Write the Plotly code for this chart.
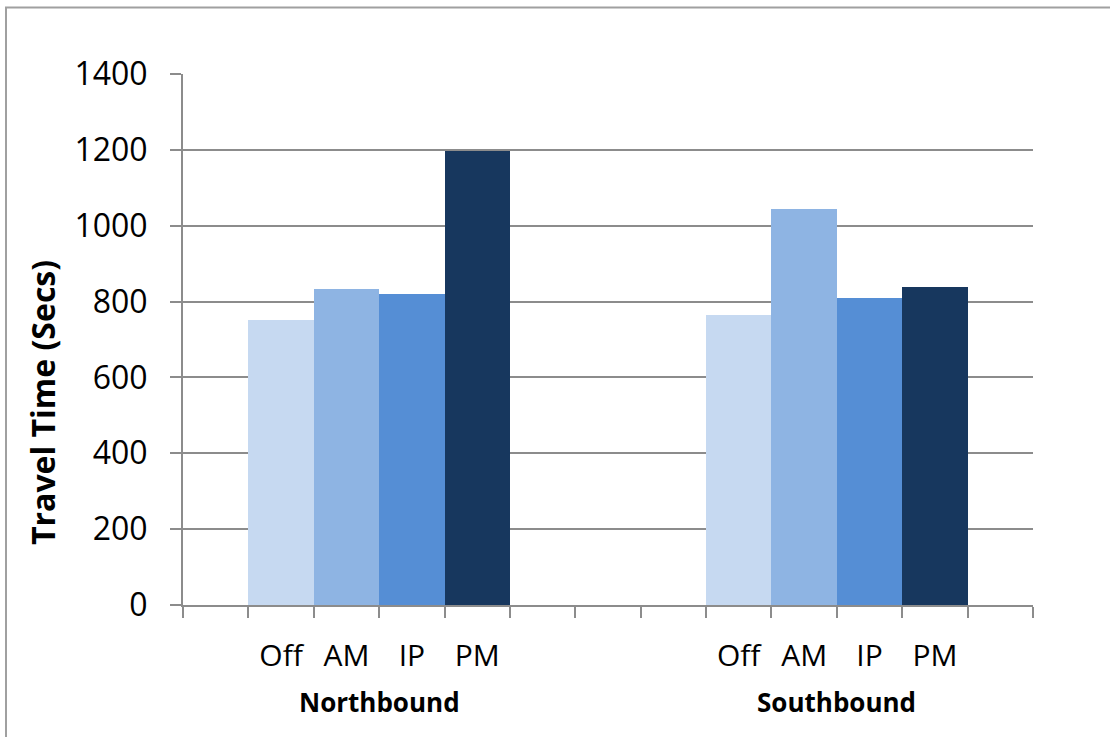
import plotly.graph_objects as go

# Travel time per direction and time period (seconds)
directions = ["Northbound", "Southbound"]
periods = ["Off", "AM", "IP", "PM"]
northbound = [751, 833, 820, 1197]
southbound = [765, 1044, 809, 838]
y_ticks = [0, 200, 400, 600, 800, 1000, 1200, 1400]

colors = ["#C6D9F1", "#8EB4E3", "#558ED5", "#17375E"]

W, H = 1110, 737
L, R, T, B = 183, 77, 74, 132
plot_w = W - L - R
plot_h = H - T - B

# Each group occupies four unit-wide slots on a 13-slot axis
group_start = {"Northbound": 1, "Southbound": 8}
series = {"Northbound": northbound, "Southbound": southbound}

fig = go.Figure()
for i, p in enumerate(periods):
    xs = [group_start[d] + i + 0.5 for d in directions]
    ys = [series[d][i] for d in directions]
    fig.add_trace(go.Bar(x=xs, y=ys, width=1.0, name=p,
                         marker=dict(color=colors[i], line=dict(width=0)),
                         showlegend=False))

tickvals = [group_start[d] + i + 0.5 for d in directions for i in range(len(periods))]
ticktext = [p for d in directions for p in periods]

axis_col = "#8C8C8C"
fig.update_layout(
    width=W, height=H,
    margin=dict(l=L, r=R, t=T, b=B),
    paper_bgcolor="white", plot_bgcolor="white",
    bargap=0, barmode="overlay",
    font=dict(family="Open Sans, sans-serif", color="black"),
    xaxis=dict(range=[0, 13], tickvals=tickvals, ticktext=ticktext,
               ticks="", showgrid=False, zeroline=False,
               showline=True, linecolor=axis_col, linewidth=2,
               tickfont=dict(size=30), ticklabelstandoff=23,
               minor=dict(tick0=0, dtick=1, ticks="outside", ticklen=11,
                          tickcolor=axis_col, tickwidth=2, showgrid=False)),
    yaxis=dict(range=[0, 1400], tickvals=y_ticks, ticks="outside", ticklen=11,
               tickcolor=axis_col, tickwidth=2,
               showgrid=True, gridcolor=axis_col, gridwidth=2,
               zeroline=False, showline=True, linecolor=axis_col, linewidth=2,
               tickfont=dict(size=32), ticklabelstandoff=16),
)

def px_x(px):
    return (px - L) / plot_w

def px_y(py):
    return (H - B - py) / plot_h

# Group labels under the period labels
for d in directions:
    fig.add_annotation(x=group_start[d] + 2, xref="x", y=px_y(702), yref="paper",
                       text="<b>%s</b>" % d, showarrow=False,
                       font=dict(size=26), xanchor="center", yanchor="middle")

# Y-axis title
fig.add_annotation(x=px_x(42), xref="paper", y=px_y(403), yref="paper",
                   text="<b>Travel Time (Secs)</b>", textangle=-90, showarrow=False,
                   font=dict(size=32), xanchor="center", yanchor="middle")

# Chart frame
fig.add_shape(type="rect", xref="paper", yref="paper",
              x0=px_x(6), x1=px_x(1120), y0=px_y(745), y1=px_y(7.5),
              line=dict(color="#A0A0A0", width=2), fillcolor="rgba(0,0,0,0)",
              layer="below")

fig.write_html("out.html")
